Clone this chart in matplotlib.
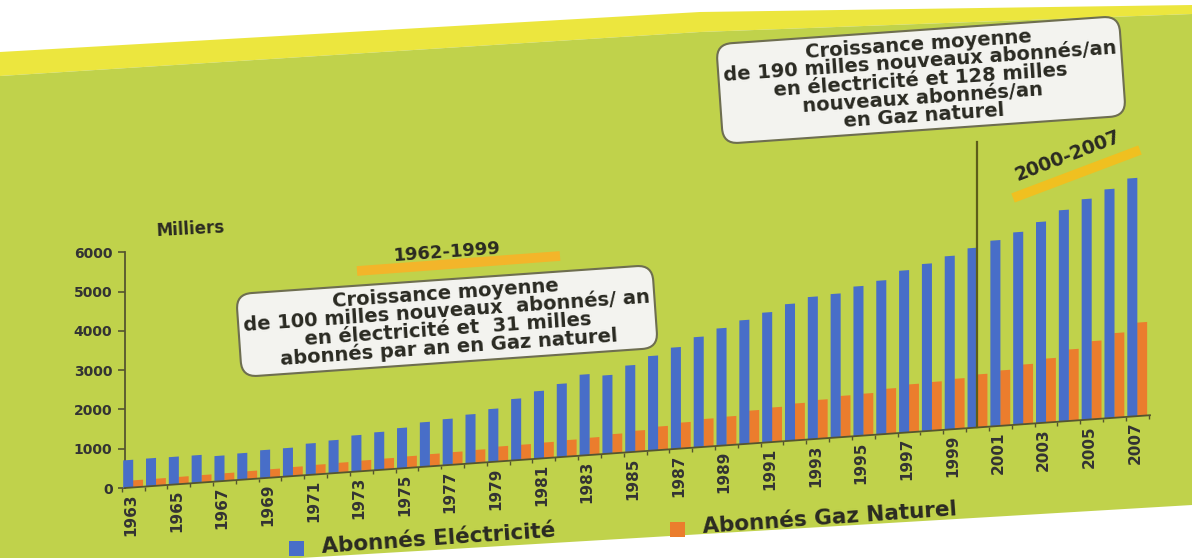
import numpy as np
import matplotlib
matplotlib.use('Agg')
import matplotlib.pyplot as plt
import matplotlib.transforms as mtransforms
from matplotlib.patches import Polygon, Rectangle

# abonnés (milliers)
years = list(range(1963, 2008))
elec = [705, 710, 705, 705, 650, 675, 715, 725, 800, 840,
        925, 965, 1030, 1135, 1175, 1250, 1350, 1565, 1720, 1865,
        2060, 2000, 2210, 2410, 2585, 2810, 2990, 3155, 3310, 3485,
        3625, 3660, 3810, 3915, 4130, 4260, 4415, 4577, 4730, 4900,
        5120, 5380, 5620, 5830, 6065]
gas = [180, 180, 185, 190, 195, 205, 215, 230, 245, 255,
       270, 280, 295, 310, 320, 335, 380, 385, 400, 420,
       440, 490, 535, 600, 660, 710, 730, 840, 880, 940,
       990, 1050, 1066, 1150, 1220, 1240, 1280, 1350, 1410, 1520,
       1630, 1820, 1990, 2155, 2380]
yticks = [0, 1000, 2000, 3000, 4000, 5000, 6000]

blue = '#486ec8'
orange = '#eb7d2d'
green = '#c0d24b'
yellow = '#ece63e'
dark = '#2a2a22'
narrow = ['Liberation Sans Narrow', 'DejaVu Sans']

W, H = 1192, 558
fig = plt.figure(figsize=(W / 100, H / 100), dpi=100)

# fond (bandeau jaune, zone verte, coin blanc)
bg = fig.add_axes([0, 0, 1, 1])
bg.set_xlim(0, W)
bg.set_ylim(H, 0)
bg.axis('off')
bg.add_patch(Polygon([(0, 52), (700, 12), (W, 5), (W, 14), (700, 32), (0, 76)],
                     fc=yellow, ec='none'))
bg.add_patch(Polygon([(0, 76), (700, 32), (W, 14), (W, 505), (300, H), (0, H)],
                     fc=green, ec='none'))

# axes du graphique
ax = fig.add_axes([125 / W, 70 / H, 1025 / W, 275 / H])
ax.set_facecolor('none')
x = np.arange(len(years))
ax.set_xlim(-0.355, 44.56)
ax.set_ylim(0, 7000)

# la photo est inclinée : cisaillement léger
k = 0.071
shear = mtransforms.Affine2D().translate(-125, 0).skew(0, np.arctan(k)).translate(125, 0)
tr = ax.transData + shear

ax.bar(x - 0.215, elec, width=0.44, color=blue, transform=tr, clip_on=False, zorder=3)
ax.bar(x + 0.215, gas, width=0.44, color=orange, transform=tr, clip_on=False, zorder=2)

ax.plot(ax.get_xlim(), [0, 0], color='#55552f', lw=1.3, transform=tr, clip_on=False, zorder=4)
ax.vlines(np.arange(-0.5, len(years), 1.0), -100, 0, color='#55552f', lw=1,
          transform=tr, clip_on=False)

lab_tr = tr + mtransforms.ScaledTranslation(0, -4 / 72, fig.dpi_scale_trans)
for i in range(0, len(years), 2):
    ax.text(x[i] - 0.1, 0, str(years[i]), transform=lab_tr, rotation=90,
            ha='center', va='top', fontsize=11, fontweight='bold', color='#333',
            family=narrow)

# ligne verticale vers 2000
ax.plot([37, 37], [0, 7270], color='#5d5d1a', lw=1.6, transform=tr, clip_on=False, zorder=5)

for s in ['top', 'right', 'bottom']:
    ax.spines[s].set_visible(False)
ax.spines['left'].set_bounds(0, 6000)
ax.spines['left'].set_color('#55552f')
ax.spines['left'].set_linewidth(1.3)
ax.set_xticks([])
ax.set_yticks(yticks)
ax.set_yticklabels([str(v) for v in yticks], fontsize=10, fontweight='bold', color='#333')
ax.tick_params(axis='y', length=5, width=1.2, color='#55552f', pad=4)

# textes
bg.text(190, 229, 'Milliers', fontsize=12, fontweight='bold', color=dark,
        ha='center', va='center', rotation=3)
bg.plot([357, 560], [271, 256], color='#f3b52a', lw=7, solid_capstyle='butt')
bg.text(447, 252, '1962-1999', fontsize=13, fontweight='bold', color=dark,
        ha='center', va='center', rotation=4)

box = dict(boxstyle='round,pad=0.25,rounding_size=0.8', fc='#f3f3ef', ec='#6e6e50', lw=1.5)
bg.text(447, 321, 'Croissance moyenne\nde 100 milles nouveaux  abonnés/ an\n'
        'en électricité et  31 milles\nabonnés par an en Gaz naturel',
        fontsize=14, fontweight='bold', color=dark, ha='center', va='center',
        multialignment='center', rotation=4, linespacing=0.92, bbox=box)
bg.text(921, 80, 'Croissance moyenne\nde 190 milles nouveaux abonnés/an\n'
        'en électricité et 128 milles\nnouveaux abonnés/an\nen Gaz naturel',
        fontsize=14, fontweight='bold', color=dark, ha='center', va='center',
        multialignment='center', rotation=4, linespacing=0.92, bbox=box, zorder=6)

bg.plot([1013, 1140], [198, 150], color='#f0c020', lw=7, solid_capstyle='butt')
bg.text(1068, 156, '2000-2007', fontsize=13.5, fontweight='bold', color=dark,
        ha='center', va='center', rotation=21)

# légende
bg.add_patch(Rectangle((289, 541), 15, 15, fc=blue, ec='none'))
bg.text(322, 547, 'Abonnés Eléctricité', fontsize=15.5, fontweight='bold', color=dark,
        ha='left', va='center', rotation=4, rotation_mode='anchor')
bg.add_patch(Rectangle((670, 522), 15, 15, fc=orange, ec='none'))
bg.text(703, 527, 'Abonnés Gaz Naturel', fontsize=15.5, fontweight='bold', color=dark,
        ha='left', va='center', rotation=4, rotation_mode='anchor')

fig.savefig('out.png', dpi=100)
